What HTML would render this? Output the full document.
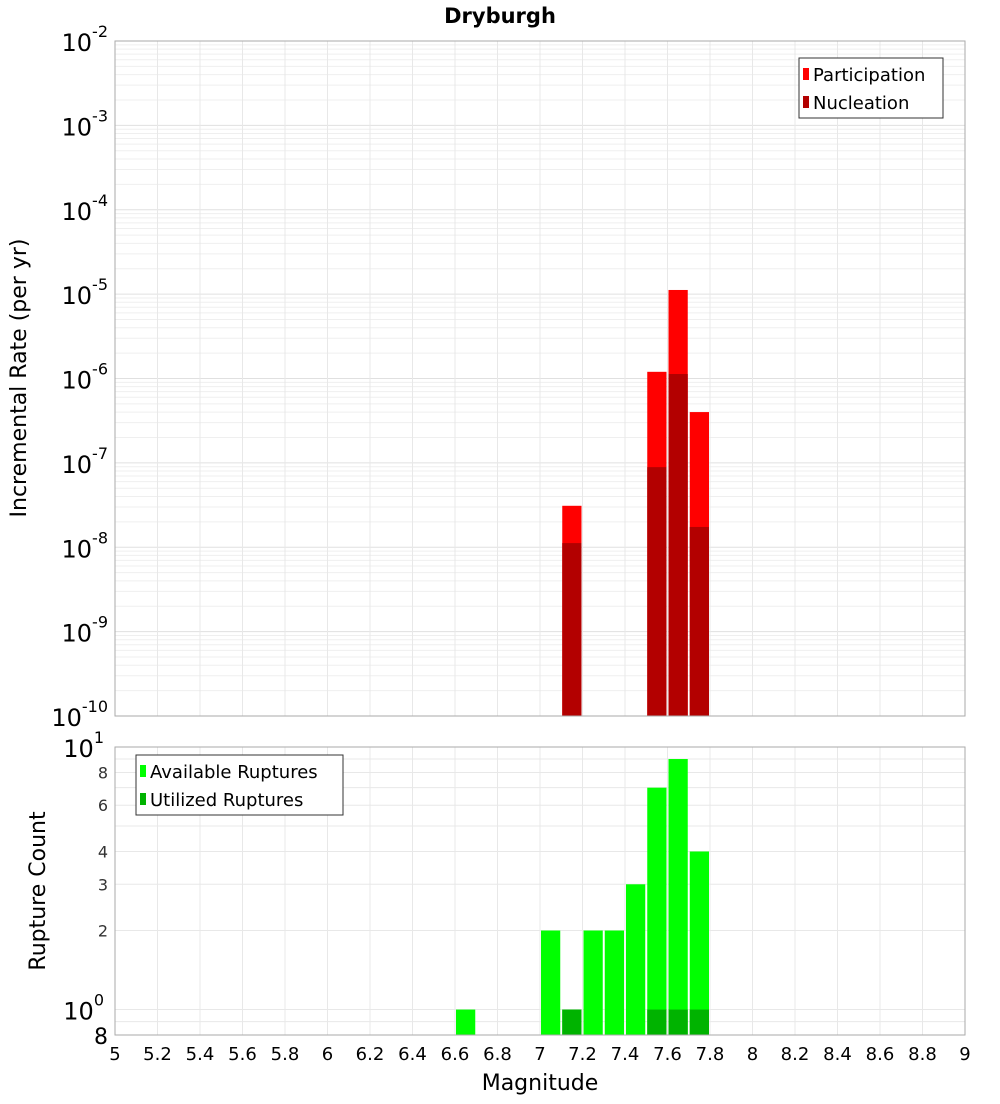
<!DOCTYPE html>
<html><head><meta charset="utf-8"><style>
body{margin:0;background:#fff;font-family:"DejaVu Sans","Liberation Sans",sans-serif;}
svg text{font-family:"DejaVu Sans","Liberation Sans",sans-serif;}
</style></head><body>
<svg id="c" width="1000" height="1100" xmlns="http://www.w3.org/2000/svg"></svg>
<script>
const binStarts = [6.6,7.0,7.1,7.2,7.3,7.4,7.5,7.6,7.7];
const availableCounts = [1,2,1,2,2,3,7,9,4];
const utilizedBins = [7.1,7.5,7.6,7.7];
const utilizedCounts = [1,1,1,1];
const rateBins = [7.1,7.5,7.6,7.7];
const participationRates = [3.1e-8,1.2e-6,1.12e-5,4.0e-7];
const nucleationRates = [1.12e-8,8.9e-8,1.13e-6,1.74e-8];
const xTicks = [5,5.2,5.4,5.6,5.8,6,6.2,6.4,6.6,6.8,7,7.2,7.4,7.6,7.8,8,8.2,8.4,8.6,8.8,9];
const topDecades = [-2,-3,-4,-5,-6,-7,-8,-9,-10];
const bottomTicks = [8,6,4,3,2];

const svg=document.getElementById('c');
const NS='http://www.w3.org/2000/svg';
function mk(tag,attrs,parent){const e=document.createElementNS(NS,tag);for(const k in attrs)e.setAttribute(k,attrs[k]);(parent||svg).appendChild(e);return e;}
const X0=115,X1=965;
const xs=m=>X0+(m-5)/4*(X1-X0);
const T0=41,T1=716;
const yTop=v=>T0+(-2-Math.log10(v))/8*(T1-T0);
const B0=747,B1=1035,bMin=Math.log10(0.8),bMax=1;
const yBot=v=>B1-(Math.log10(v)-bMin)/(bMax-bMin)*(B1-B0);

// title
let t=mk('text',{x:500,y:23,'text-anchor':'middle','font-size':21,'font-weight':'bold'});t.textContent='Dryburgh';


// top grid
let g=mk('g',{});
for(let d=-10;d<-2;d++)for(let k=1;k<10;k++){const y=yTop(k*Math.pow(10,d));mk('line',{x1:X0,x2:X1,y1:y,y2:y,stroke:k==1?'#e0e0e0':'#efefef','stroke-width':1},g);}
for(const m of xTicks){mk('line',{x1:xs(m),x2:xs(m),y1:T0,y2:T1,stroke:'#e8e8e8'},g);mk('line',{x1:xs(m),x2:xs(m),y1:B0,y2:B1,stroke:'#e8e8e8'},g);}
// bottom grid
for(let v=0.8;v<1;v+=0.1){const y=yBot(v);mk('line',{x1:X0,x2:X1,y1:y,y2:y,stroke:'#e8e8e8'},g);}
for(let k=1;k<=10;k++){const y=yBot(k);mk('line',{x1:X0,x2:X1,y1:y,y2:y,stroke:'#e8e8e8'},g);}

// top bars
const bw=(X1-X0)/40;
rateBins.forEach((b,i)=>{
 let r=mk('rect',{x:xs(b)+1,y:yTop(participationRates[i]),width:bw-2,height:T1-yTop(participationRates[i]),fill:'#ff0000'});
 
 r=mk('rect',{x:xs(b)+1,y:yTop(nucleationRates[i]),width:bw-2,height:T1-yTop(nucleationRates[i]),fill:'#b30000'});
 
});
// bottom bars
binStarts.forEach((b,i)=>{
 const r=mk('rect',{x:xs(b)+1,y:yBot(availableCounts[i]),width:bw-2,height:B1-yBot(availableCounts[i]),fill:'#00ff00'});
 
});
utilizedBins.forEach((b,i)=>{
 const r=mk('rect',{x:xs(b)+1,y:yBot(utilizedCounts[i]),width:bw-2,height:B1-yBot(utilizedCounts[i]),fill:'#00b300'});
 
});

// frames
mk('rect',{x:X0,y:T0,width:X1-X0,height:T1-T0,fill:'none',stroke:'#aaa'});
mk('rect',{x:X0,y:B0,width:X1-X0,height:B1-B0,fill:'none',stroke:'#aaa'});

// top y labels
topDecades.forEach(d=>{
 const y=yTop(Math.pow(10,d));
 const tx=mk('text',{x:108,y:y+10,'text-anchor':'end','font-size':24});
 
 const a=mk('tspan',{},tx);a.textContent='10';
 const s=mk('tspan',{dy:-14,'font-size':16},tx);s.textContent=String(d);
});
// bottom y labels
[[10,'10','1'],[1,'10','0']].forEach(([v,b,e])=>{
 const tx=mk('text',{x:104,y:yBot(v)+10,'text-anchor':'end','font-size':24});
 
 mk('tspan',{},tx).textContent=b;const s=mk('tspan',{dy:-14,'font-size':16},tx);s.textContent=e;
});
bottomTicks.forEach(v=>{
 const tx=mk('text',{x:108,y:yBot(v)+6,'text-anchor':'end','font-size':16,fill:'#333'});tx.textContent=v;
 
});
let e8=mk('text',{x:108,y:B1+9,'text-anchor':'end','font-size':22});e8.textContent='8';


// x labels
xTicks.forEach(m=>{
 const tx=mk('text',{x:xs(m),y:1060,'text-anchor':'middle','font-size':18});tx.textContent=String(m);
 
});
t=mk('text',{x:540,y:1090,'text-anchor':'middle','font-size':22});t.textContent='Magnitude';

t=mk('text',{x:0,y:0,'text-anchor':'middle','font-size':22,transform:'translate(26,378) rotate(-90)'});t.textContent='Incremental Rate (per yr)';

t=mk('text',{x:0,y:0,'text-anchor':'middle','font-size':22,transform:'translate(45,891) rotate(-90)'});t.textContent='Rupture Count';


// legends
function legend(x,y,w,items,name){
 const lg=mk('g',{});
 mk('rect',{x:x,y:y,width:w,height:60,fill:'#fff',stroke:'#333'},lg);
 items.forEach(([c,l],i)=>{
  mk('rect',{x:x+4,y:y+10+i*28,width:6,height:12,fill:c},lg);
  const tx=mk('text',{x:x+14,y:y+23+i*28,'font-size':18},lg);tx.textContent=l;
 });
}
legend(799,58,144,[['#ff0000','Participation'],['#b30000','Nucleation']],'top-legend');
legend(136,755,207,[['#00ff00','Available Ruptures'],['#00b300','Utilized Ruptures']],'bottom-legend');
</script>
</body></html>
